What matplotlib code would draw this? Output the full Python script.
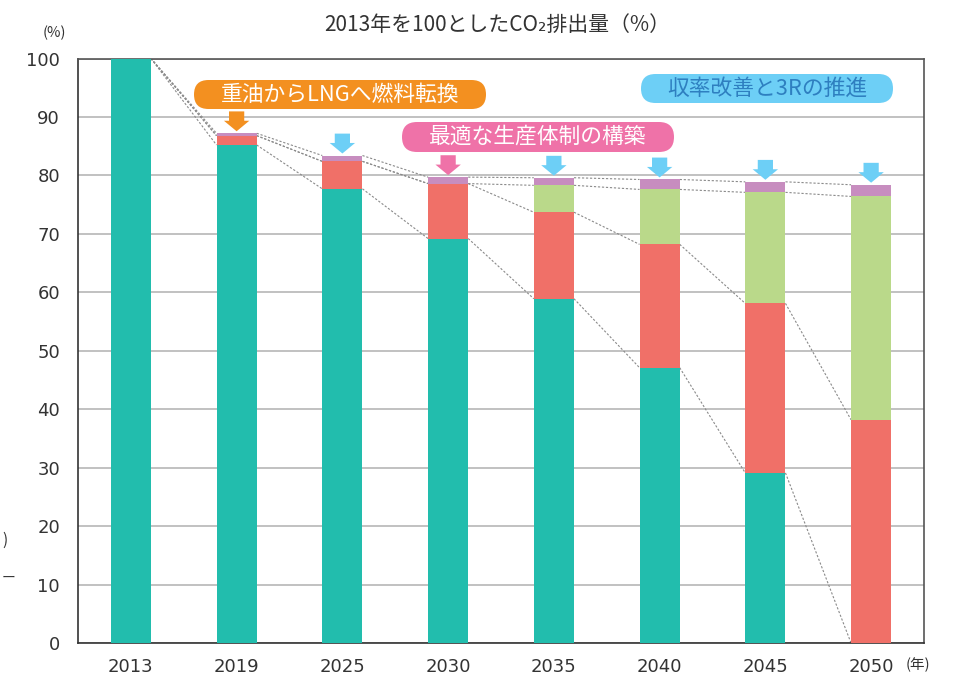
import matplotlib
matplotlib.use("Agg")
import matplotlib.pyplot as plt
import numpy as np
from matplotlib.patches import FancyBboxPatch, Polygon
from matplotlib.transforms import IdentityTransform

plt.rcParams['font.family'] = ['Noto Sans CJK JP', 'DejaVu Sans']

years = ['2013', '2019', '2025', '2030', '2035', '2040', '2045', '2050']
base = [100.0, 85.2, 77.7, 69.2, 58.9, 47.1, 29.1, 0.0]        # 残り
lng = [0.0, 1.6, 4.7, 9.4, 14.8, 21.1, 29.0, 38.2]             # 重油からLNGへ燃料転換
prod = [0.0, 0.0, 0.0, 0.0, 4.6, 9.4, 19.0, 38.2]              # 最適な生産体制の構築
yield3r = [0.0, 0.4, 1.0, 1.1, 1.3, 1.7, 1.8, 2.0]             # 収率改善と3Rの推進
arrow_colors = [None, '#F39020', '#6DCFF6', '#EF72A8', '#6DCFF6', '#6DCFF6', '#6DCFF6', '#6DCFF6']

teal = '#22BDAD'
red = '#F07068'
green = '#BAD98A'
purple = '#C78DBF'

W, H = 963, 677
fig = plt.figure(figsize=(W / 100, H / 100), dpi=100)
ax = fig.add_axes([78 / W, 1 - 643 / H, (924 - 78) / W, (643 - 58.5) / H])

x = np.arange(len(years))
bw = 0.38
b = np.array(base)
r = np.array(lng)
g = np.array(prod)
p = np.array(yield3r)

ax.bar(x, b, bw, color=teal, zorder=3)
ax.bar(x, r, bw, bottom=b, color=red, zorder=3)
ax.bar(x, g, bw, bottom=b + r, color=green, zorder=3)
ax.bar(x, p, bw, bottom=b + r + g, color=purple, zorder=3)

# dotted connectors between cumulative levels
levels = [b, b + r, b + r + g, b + r + g + p]
for lv in levels:
    for i in range(len(x) - 1):
        ax.plot([x[i] + bw / 2, x[i + 1] - bw / 2], [lv[i], lv[i + 1]],
                color='#8a8a8a', lw=0.8, ls=(0, (2, 1.6)), zorder=2)

# arrows above bars
tot = b + r + g + p
sw, hw = 0.072, 0.12   # half widths (x units)
gap, hh, ah = 0.35, 1.8, 3.4
for i, c in enumerate(arrow_colors):
    if c is None:
        continue
    tip = tot[i] + gap
    pts = [(x[i], tip), (x[i] - hw, tip + hh), (x[i] - sw, tip + hh),
           (x[i] - sw, tip + ah), (x[i] + sw, tip + ah), (x[i] + sw, tip + hh),
           (x[i] + hw, tip + hh)]
    ax.add_patch(Polygon(pts, closed=True, color=c, lw=0, zorder=4))

ax.set_xlim(-0.5, len(years) - 0.5)
ax.set_ylim(0, 100)
ax.set_yticks(np.arange(0, 101, 10))
ax.set_xticks(x)
ax.set_xticklabels(years)
ax.tick_params(axis='both', length=0, labelsize=13, colors='#333333')
ax.tick_params(axis='y', pad=13)
ax.tick_params(axis='x', pad=11)
for lab in ax.get_xticklabels() + ax.get_yticklabels():
    lab.set_family('DejaVu Sans')
ax.yaxis.grid(True, color='#b0b0b0', lw=1.1, zorder=0)
ax.set_axisbelow(True)
for s in ['left', 'bottom']:
    ax.spines[s].set_color('#333333')
    ax.spines[s].set_linewidth(1.2)
for s in ['top', 'right']:
    ax.spines[s].set_color('#555555')
    ax.spines[s].set_linewidth(1.2)

fig.text(497 / W, 1 - 25 / H, '2013年を100としたCO₂排出量（%）', ha='center', va='center',
         fontsize=15, color='#333333')
fig.text(54 / W, 1 - 33 / H, '(%)', ha='center', va='center', fontsize=10.5, color='#333333')
fig.text(918 / W, 1 - 665 / H, '(年)', ha='center', va='center', fontsize=10.5, color='#333333')
fig.text(2 / W, 1 - 540 / H, ')', ha='left', va='center', fontsize=11, color='#333333')
fig.text(2 / W, 1 - 578 / H, 'ー', ha='left', va='center', fontsize=10, color='#333333')


def pill(x0, y0, x1, y1, color, text, tcolor):
    h = y1 - y0
    box = FancyBboxPatch((x0, H - y1), x1 - x0, h,
                         boxstyle=f"round,pad=0,rounding_size={h / 2}",
                         transform=IdentityTransform(), color=color, lw=0)
    fig.add_artist(box)
    fig.text((x0 + x1) / 2 / W, 1 - (y0 + y1) / 2 / H, text, ha='center', va='center',
             fontsize=15.7, color=tcolor)


pill(194, 80, 486, 109, '#F39020', '重油からLNGへ燃料転換', 'white')
pill(402, 122, 674, 152, '#EF72A8', '最適な生産体制の構築', 'white')
pill(641, 74, 893, 103, '#6DCFF6', '収率改善と3Rの推進', '#2E7FC0')

fig.savefig('out.png', dpi=100)
